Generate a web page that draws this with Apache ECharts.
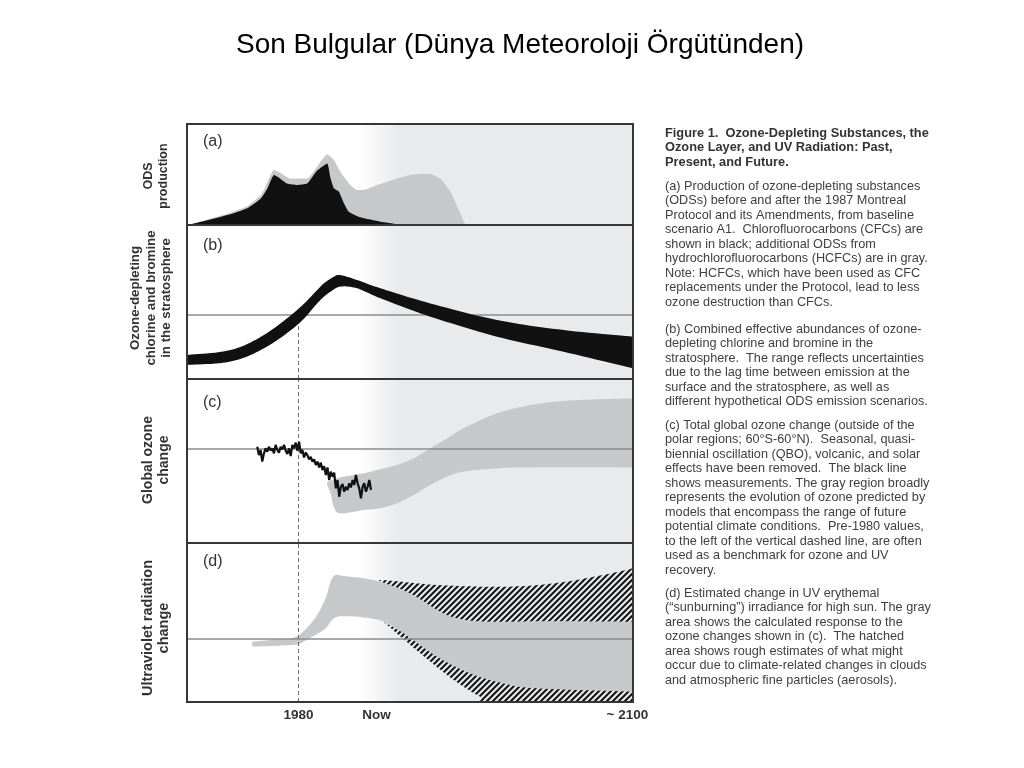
<!DOCTYPE html>
<html><head><meta charset="utf-8">
<script src="https://cdn.jsdelivr.net/npm/echarts@6/dist/echarts.min.js"></script>
<style>html,body{margin:0;padding:0;background:#fff}#c{width:1024px;height:768px}</style>
</head><body><div id="c"></div>
<script>
// ---------------- data ----------------
const xTickValues = [1980, 2008, 2098];
const xTickLabels = ['1980', 'Now', '~ 2100'];
const panelLetters = ['(a)', '(b)', '(c)', '(d)'];
const panelTitles = ['ODS\nproduction', 'Ozone-depleting\nchlorine and bromine\nin the stratosphere', 'Global ozone\nchange', 'Ultraviolet radiation\nchange'];

// (a) ODS production: CFCs (black) and total incl. HCFCs (gray)
const cfcProduction = [[1940,0],[1941.9,1],[1955.6,10.6],[1961.6,16.5],[1966.4,26],[1968.8,36],[1971.2,49.5],[1972.9,47],[1975.9,41],[1979.5,39.6],[1983.1,41],[1986.7,54],[1990.3,61],[1991.5,46.2],[1992.7,36.3],[1994.5,33],[1996.3,21.5],[1998.0,13.2],[2002.2,7.6],[2009.4,3.3],[2015.4,1],[2018,0]];
const totalOdsProduction = [[1940,0],[1941.9,1],[1955.6,12.2],[1961.6,18.5],[1966.4,29.5],[1967.6,34.6],[1971.2,54.5],[1973.5,51.8],[1977.1,46],[1983.1,46],[1987.9,62.7],[1990.3,70],[1992.7,64.4],[1995,52.8],[1998.6,39.6],[2001,34.6],[2003.4,34.6],[2008.2,39.6],[2015.4,46],[2021.3,50.2],[2027.3,50.5],[2030.9,46],[2034.5,33],[2037.5,14.9],[2039.9,0.5],[2041,0]];

// (b) effective stratospheric chlorine + bromine range
const halogenUpper = [[1940,15.6],[1955.6,18.8],[1967.6,28.6],[1979.5,44.8],[1986.7,57.8],[1989.1,62.1],[1992.7,66.4],[1995,67.5],[2001,64.3],[2009.4,58.9],[2027.3,49.1],[2051.2,38.3],[2075.1,31.8],[2100,27.5]];
const halogenLower = [[1940,9.1],[1955.6,11.3],[1967.6,19.9],[1979.5,35],[1986.7,49.1],[1989.1,53.4],[1991.5,56.7],[1995,60],[2001,58.9],[2009.4,52.4],[2027.3,40.5],[2051.2,27.5],[2075.1,17.7],[2100,6.9]];

// (c) global ozone: measurements and model range
const ozoneYears = [1965.2,1965.8,1966.4,1967.0,1967.6,1968.2,1968.8,1969.4,1970.0,1970.6,1971.2,1971.8,1972.4,1973.0,1973.6,1974.2,1974.8,1975.4,1976.0,1976.6,1977.2,1977.8,1978.4,1979.0,1979.6,1980.2,1980.8,1981.4,1982.0,1982.6,1983.2,1983.8,1984.4,1985.0,1985.6,1986.2,1986.8,1987.4,1988.0,1988.6,1989.2,1989.8,1990.4,1991.0,1991.6,1992.2,1992.8,1993.4,1994.0,1994.6,1995.2,1995.8,1996.4,1997.0,1997.6,1998.2,1998.8,1999.4,2000.0,2000.6,2001.2,2001.8,2002.4,2003.0,2003.6,2004.2,2004.8,2005.4,2006.0];
const ozoneMeasured = [58.7,53.6,56.7,49.6,54.7,57.7,55.7,58.7,56.3,57.7,54.7,59.8,56.7,55.1,58.7,57.1,59.8,56.3,54.3,57.7,53.0,59.8,57.7,61.2,56.3,61.8,54.7,56.7,52.2,55.1,53.6,51.0,52.6,49.6,51.0,47.6,49.6,46.1,49.0,44.5,46.9,41.5,46.1,38.4,43.5,40.4,42.9,33.3,38.4,28.2,34.3,36.0,31.3,34.3,32.3,36.4,33.9,38.4,35.4,41.5,36.4,33.3,27.2,34.3,36.4,31.3,34.3,38.4,32.3];
const ozoneModelUpper = [[1990.3,37],[1995,40],[2003.4,42.5],[2005.8,43.5],[2009.4,45],[2015.4,47.6],[2021.3,51.6],[2027.3,57.7],[2033.3,63.8],[2039.2,69.9],[2051.2,79.1],[2063.2,84.1],[2075.1,86.6],[2087.1,87.6],[2100,88.2]];
const ozoneModelLower = [[1990.3,35],[1991.5,30.3],[1992.7,22],[1995,18.1],[2003.4,20.1],[2009.4,21.2],[2015.4,24.2],[2021.3,29.3],[2027.3,35.4],[2033.3,40.5],[2039.2,43.5],[2051.2,45.5],[2063.2,46.1],[2100,46.1]];

// (d) UV change: calculated (gray) and climate-related range (hatched)
const uvCalcUpper = [[1963.4,37.9],[1970,39.0],[1977.2,40.0],[1980.2,42.1],[1983.2,47.0],[1986.7,54.7],[1989.7,65.2],[1991.5,75.7],[1993.3,79.9],[1996.3,79.2],[2003.4,77.8],[2010.6,75.0],[2020.1,68.3],[2029.7,57.9],[2036.9,52.6],[2047.6,50.5],[2070,50.8],[2100,50.5]];
const uvCalcLower = [[1963.4,34.8],[1970,35.2],[1977.2,35.8],[1980.2,36.5],[1983.2,39.4],[1986.7,42.8],[1989.7,46.3],[1991.5,50.4],[1993.3,53.2],[1996.3,54.0],[2003.4,53.2],[2010.6,50.5],[2017.7,43.2],[2029.7,28.5],[2041.6,18.0],[2053.6,11.7],[2065.6,8.6],[2100,6.5]];
const uvHatchHighTop = [[2009.6,75.6],[2010.6,76.7],[2029.7,73.6],[2053.6,72.5],[2071.5,74.6],[2089.4,79.9],[2100,84.1]];
const uvHatchHighBottom = [[2009.6,75.6],[2010.6,75.0],[2020.1,68.3],[2029.7,57.9],[2036.9,52.6],[2047.6,50.5],[2070,50.8],[2100,50.5]];
const uvHatchLowTop = [[2010.0,50.8],[2017.7,43.2],[2029.7,28.5],[2041.6,18.0],[2053.6,11.7],[2065.6,8.6],[2100,6.5]];
const uvHatchLowBottom = [[2010.0,50.8],[2011.8,48.4],[2023.7,30.6],[2035.7,13.8],[2045.2,3.3],[2050,0.2],[2100,0]];

// reference (benchmark) levels and 1980 marker
const refLevels = [null, 41.6, 57.3, 39.6];
const marker1980 = [null, [0, 35], [0, 100], [0, 100]];
const futureShade = [2002, 2100];

const captionHeading = ['Figure 1.  Ozone-Depleting Substances, the', 'Ozone Layer, and UV Radiation: Past,', 'Present, and Future.'];
const captionParas = [
  ['(a) Production of ozone-depleting substances', '(ODSs) before and after the 1987 Montreal', 'Protocol and its Amendments, from baseline', 'scenario A1.  Chlorofluorocarbons (CFCs) are', 'shown in black; additional ODSs from', 'hydrochlorofluorocarbons (HCFCs) are in gray.', 'Note: HCFCs, which have been used as CFC', 'replacements under the Protocol, lead to less', 'ozone destruction than CFCs.'],
  ['(b) Combined effective abundances of ozone-', 'depleting chlorine and bromine in the', 'stratosphere.  The range reflects uncertainties', 'due to the lag time between emission at the', 'surface and the stratosphere, as well as', 'different hypothetical ODS emission scenarios.'],
  ['(c) Total global ozone change (outside of the', 'polar regions; 60°S-60°N).  Seasonal, quasi-', 'biennial oscillation (QBO), volcanic, and solar', 'effects have been removed.  The black line', 'shows measurements. The gray region broadly', 'represents the evolution of ozone predicted by', 'models that encompass the range of future', 'potential climate conditions.  Pre-1980 values,', 'to the left of the vertical dashed line, are often', 'used as a benchmark for ozone and UV', 'recovery.'],
  ['(d) Estimated change in UV erythemal', '(“sunburning”) irradiance for high sun. The gray', 'area shows the calculated response to the', 'ozone changes shown in (c).  The hatched', 'area shows rough estimates of what might', 'occur due to climate-related changes in clouds', 'and atmospheric fine particles (aerosols).']
];

// ---------------- chart ----------------
const FONT = '"Liberation Sans", Arial, Helvetica, sans-serif';
const chart = echarts.init(document.getElementById('c'), null, {renderer: 'canvas'});

function makeHatch() {
  const c = document.createElement('canvas');
  c.width = 6; c.height = 6;
  const g = c.getContext('2d');
  g.strokeStyle = '#161616'; g.lineWidth = 2.1;
  g.beginPath();
  g.moveTo(-1, 7); g.lineTo(7, -1);
  g.moveTo(-4, 4); g.lineTo(4, -4);
  g.moveTo(2, 10); g.lineTo(10, 2);
  g.stroke();
  return c;
}
const hatch = {image: makeHatch(), repeat: 'repeat'};

// draw a smooth (Catmull-Rom) curve through pixel points, sampled for a polygon outline
function smoothPixels(pts) {
  const out = [];
  const n = pts.length;
  for (let i = 0; i < n - 1; i++) {
    const p0 = pts[Math.max(0, i - 1)], p1 = pts[i], p2 = pts[i + 1], p3 = pts[Math.min(n - 1, i + 2)];
    const c1 = [p1[0] + (p2[0] - p0[0]) / 6, p1[1] + (p2[1] - p0[1]) / 6];
    const c2 = [p2[0] - (p3[0] - p1[0]) / 6, p2[1] - (p3[1] - p1[1]) / 6];
    const steps = 12;
    for (let s = (i === 0 ? 0 : 1); s <= steps; s++) {
      const t = s / steps, u = 1 - t;
      out.push([
        u*u*u*p1[0] + 3*u*u*t*c1[0] + 3*u*t*t*c2[0] + t*t*t*p2[0],
        u*u*u*p1[1] + 3*u*u*t*c1[1] + 3*u*t*t*c2[1] + t*t*t*p2[1]
      ]);
    }
  }
  return out;
}

const grids = [
  {top: 124, height: 101},
  {top: 225, height: 154},
  {top: 379, height: 164},
  {top: 543, height: 159}
].map(g => Object.assign({left: 187, width: 446, show: true, z: 10, backgroundColor: 'transparent', borderColor: '#363636', borderWidth: 2}, g));

const xAxes = grids.map((g, i) => ({
  type: 'value', gridIndex: i, min: 1940, max: 2100,
  show: i === 3,
  axisLine: {show: false}, axisTick: {show: false}, splitLine: {show: false},
  axisLabel: {
    show: i === 3, customValues: xTickValues, margin: 6,
    formatter: v => { const k = xTickValues.indexOf(v); return k >= 0 ? xTickLabels[k] : ''; },
    fontFamily: FONT, fontWeight: 'bold', fontSize: 13.5, color: '#333'
  }
}));
const yAxes = grids.map((g, i) => ({type: 'value', gridIndex: i, min: 0, max: 100, show: false}));

function shadeSeries(i) {
  return {
    type: 'custom', xAxisIndex: i, yAxisIndex: i, z: 1, silent: true, clip: true,
    data: [[futureShade[0], 0]],
    renderItem: function (p, api) {
      const a = api.coord([futureShade[0], 100]);
      const b = api.coord([futureShade[1], 0]);
      return {type: 'rect', shape: {x: a[0], y: a[1], width: b[0] - a[0], height: b[1] - a[1]},
        style: {fill: new echarts.graphic.LinearGradient(0, 0, 1, 0, [
          {offset: 0, color: '#ffffff'}, {offset: 0.14, color: '#e9eaec'}, {offset: 1, color: '#e9eaec'}])}};
    }
  };
}
function bandSeries(i, upper, lower, fill, z) {
  return {
    type: 'custom', xAxisIndex: i, yAxisIndex: i, z: z, silent: true, clip: true,
    data: [upper[0]],
    renderItem: function (p, api) {
      const up = smoothPixels(upper.map(q => api.coord(q)));
      const lo = smoothPixels(lower.map(q => api.coord(q)));
      const pts = up.concat(lo.reverse());
      return {type: 'polygon', shape: {points: pts}, style: {fill: fill}};
    }
  };
}
function refSeries(i, z) {
  return {
    type: 'custom', xAxisIndex: i, yAxisIndex: i, z: z, silent: true,
    data: [[1980, refLevels[i]]],
    renderItem: function (p, api) {
      const ch = [];
      const l = api.coord([1940, refLevels[i]]), r = api.coord([2100, refLevels[i]]);
      ch.push({type: 'line', shape: {x1: l[0], y1: l[1], x2: r[0], y2: r[1]}, style: {stroke: '#8c8c8c', lineWidth: 1.6}});
      const d0 = api.coord([1980, marker1980[i][0]]), d1 = api.coord([1980, marker1980[i][1]]);
      ch.push({type: 'line', shape: {x1: d0[0], y1: d0[1], x2: d1[0], y2: d1[1]}, style: {stroke: '#6e6e6e', lineWidth: 1, lineDash: [4, 3]}});
      return {type: 'group', children: ch};
    }
  };
}

const series = [
  shadeSeries(0), shadeSeries(1), shadeSeries(2), shadeSeries(3),
  // (a)
  {type: 'line', xAxisIndex: 0, yAxisIndex: 0, z: 2, data: totalOdsProduction, symbol: 'none', smooth: 0.15,
    lineStyle: {width: 0}, areaStyle: {color: '#c7c8ca', opacity: 1}, silent: true},
  {type: 'line', xAxisIndex: 0, yAxisIndex: 0, z: 3, data: cfcProduction, symbol: 'none', smooth: 0.15,
    lineStyle: {width: 0}, areaStyle: {color: '#111111', opacity: 1}, silent: true},
  // (b)
  refSeries(1, 2),
  bandSeries(1, halogenUpper, halogenLower, '#111111', 3),
  // (c)
  bandSeries(2, ozoneModelUpper, ozoneModelLower, '#c7c8ca', 2),
  refSeries(2, 3),
  {type: 'line', xAxisIndex: 2, yAxisIndex: 2, z: 4, data: ozoneYears.map((y, k) => [y, ozoneMeasured[k]]), symbol: 'none',
    lineStyle: {width: 2.2, color: '#111111'}, silent: true},
  // (d)
  bandSeries(3, uvCalcUpper, uvCalcLower, '#c7c8ca', 2),
  bandSeries(3, uvHatchHighTop, uvHatchHighBottom, hatch, 3),
  bandSeries(3, uvHatchLowTop, uvHatchLowBottom, hatch, 3),
  refSeries(3, 4)
];

// graphic texts
const graphics = [];
graphics.push({type: 'text', x: 520, y: 45, style: {text: 'Son Bulgular (Dünya Meteoroloji Örgütünden)', font: '28px ' + FONT, fill: '#000', textAlign: 'center', textVerticalAlign: 'middle', align: 'center', verticalAlign: 'middle'}});
const letterY = [142, 246, 403, 562];
panelLetters.forEach((t, i) => graphics.push({type: 'text', x: 203, y: letterY[i], z: 20,
  style: {text: t, font: '16px ' + FONT, fill: '#333', textAlign: 'left', textVerticalAlign: 'middle', align: 'left', verticalAlign: 'middle'}}));
const titleCenters = [[156, 176], [151, 298], [156, 460], [156, 628]];
const titleSizes = [12.5, 13.3, 14, 14.5];
panelTitles.forEach((t, i) => graphics.push({type: 'text', x: titleCenters[i][0], y: titleCenters[i][1], rotation: Math.PI / 2,
  style: {text: t, font: 'bold ' + titleSizes[i] + 'px ' + FONT, fill: '#333', lineHeight: 15.5, textAlign: 'center', textVerticalAlign: 'middle', align: 'center', verticalAlign: 'middle'}}));
captionHeading.forEach((t, k) => graphics.push({type: 'text', x: 665, y: 133 + k * 14.6,
  style: {text: t, font: 'bold 12.8px ' + FONT, fill: '#333', textAlign: 'left', textVerticalAlign: 'middle', align: 'left', verticalAlign: 'middle'}}));
const paraStart = [186, 329, 425, 593];
captionParas.forEach((para, pi) => para.forEach((t, k) => graphics.push({type: 'text', x: 665, y: paraStart[pi] + k * 14.5,
  style: {text: t, font: '12.7px ' + FONT, fill: '#404040', textAlign: 'left', textVerticalAlign: 'middle', align: 'left', verticalAlign: 'middle'}})));

chart.setOption({
  animation: false,
  backgroundColor: '#ffffff',
  grid: grids,
  xAxis: xAxes,
  yAxis: yAxes,
  series: series,
  graphic: {elements: graphics}
});
</script>
</body></html>
